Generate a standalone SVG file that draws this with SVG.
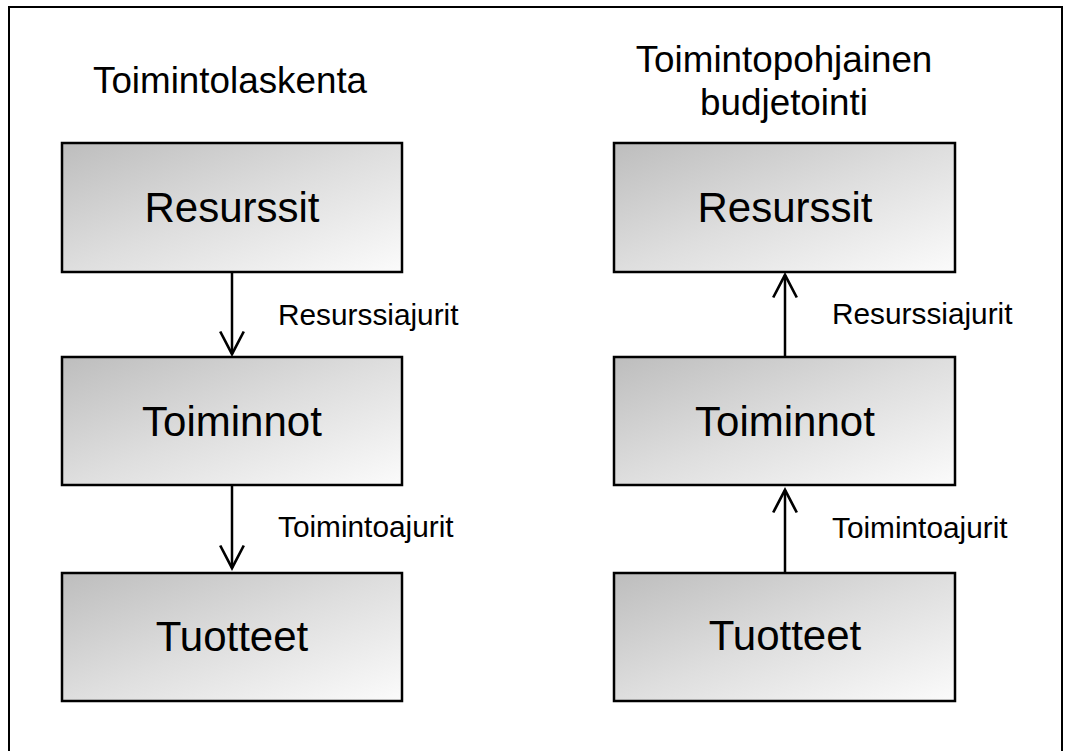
<svg xmlns="http://www.w3.org/2000/svg" width="1065" height="751" viewBox="0 0 1065 751">
  <style>
    .box { stroke: #000; stroke-width: 2.5; fill: url(#boxFill); }
    .big { font-family: "Liberation Sans", Arial, sans-serif; font-size: 42px; fill: #000; text-anchor: middle; }
    .title { font-family: "Liberation Sans", Arial, sans-serif; font-size: 36.8px; fill: #000; }
    .lbl { font-family: "Liberation Sans", Arial, sans-serif; font-size: 29.8px; fill: #000; }
    .conn { stroke: #000; stroke-width: 2.5; fill: none; marker-end: url(#openArrow); }
  </style>
  <defs>
    <linearGradient id="boxFill" x1="0" y1="0" x2="1" y2="1">
      <stop offset="0" stop-color="#bdbdbd"/>
      <stop offset="0.5" stop-color="#dedede"/>
      <stop offset="1" stop-color="#fbfbfb"/>
    </linearGradient>
    <marker id="openArrow" markerUnits="userSpaceOnUse" markerWidth="30" markerHeight="30" viewBox="-24 -14 28 28" refX="0" refY="0" orient="auto">
      <path d="M-21,-11 L0,0 L-21,11" fill="none" stroke="#000" stroke-width="2.5"/>
    </marker>
  </defs>

  <rect x="0" y="0" width="1065" height="751" fill="#fff"/>
  <!-- outer frame -->
  <rect x="9" y="7" width="1053" height="760" fill="none" stroke="#000" stroke-width="2"/>

  <!-- column titles -->
  <text class="title" x="93" y="93">Toimintolaskenta</text>
  <text class="title" x="784" y="72" text-anchor="middle">Toimintopohjainen</text>
  <text class="title" x="784" y="115" text-anchor="middle">budjetointi</text>

  <!-- connectors -->
  <g id="connectors">
    <line class="conn" x1="232" y1="272" x2="232" y2="354"/>
    <line class="conn" x1="232" y1="485" x2="232" y2="568"/>
    <line class="conn" x1="785" y1="357" x2="785" y2="275"/>
    <line class="conn" x1="785" y1="573" x2="785" y2="490"/>
    <text class="lbl" x="278" y="325">Resurssiajurit</text>
    <text class="lbl" x="278" y="537">Toimintoajurit</text>
    <text class="lbl" x="832" y="324">Resurssiajurit</text>
    <text class="lbl" x="832" y="538">Toimintoajurit</text>
  </g>

  <!-- left column -->
  <g id="left-resurssit">
    <rect class="box" x="62" y="143" width="340" height="129"/>
    <text class="big" x="232" y="222">Resurssit</text>
  </g>
  <g id="left-toiminnot">
    <rect class="box" x="62" y="357" width="340" height="128"/>
    <text class="big" x="232" y="436">Toiminnot</text>
  </g>
  <g id="left-tuotteet">
    <rect class="box" x="62" y="573" width="340" height="128"/>
    <text class="big" x="232" y="651">Tuotteet</text>
  </g>

  <!-- right column -->
  <g id="right-resurssit">
    <rect class="box" x="614" y="143" width="341" height="129"/>
    <text class="big" x="785" y="222">Resurssit</text>
  </g>
  <g id="right-toiminnot">
    <rect class="box" x="614" y="357" width="341" height="128"/>
    <text class="big" x="785" y="436">Toiminnot</text>
  </g>
  <g id="right-tuotteet">
    <rect class="box" x="614" y="573" width="341" height="128"/>
    <text class="big" x="785" y="650">Tuotteet</text>
  </g>
</svg>
